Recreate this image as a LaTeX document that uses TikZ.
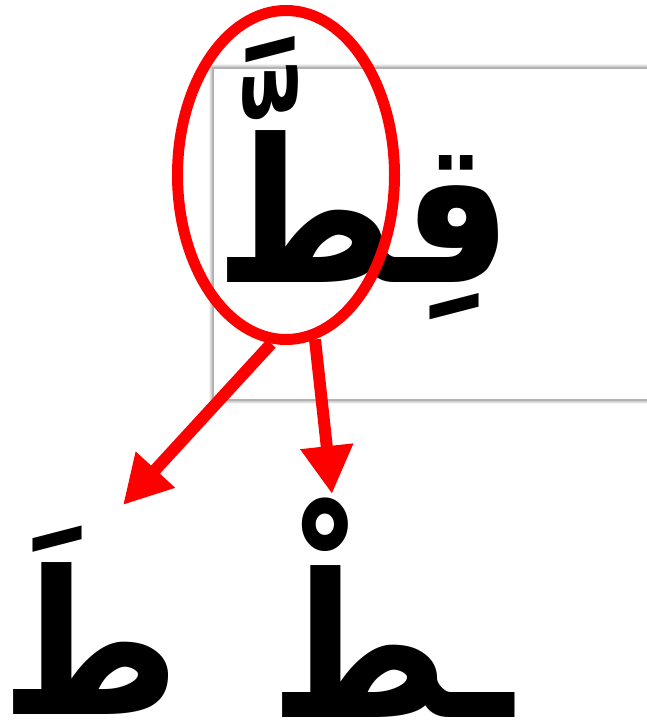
\documentclass[tikz,border=0pt]{standalone}
\usepackage{fontspec}
\usetikzlibrary{arrows.meta,shapes.geometric,shadows.blur}
\newfontfamily\arabicfont[Script=Arabic]{DejaVu Sans}
\TeXXeTstate=1

\begin{document}
\begin{tikzpicture}[
		x=1pt,y=1pt,
		>={Triangle[length=48pt,width=50pt]},
		word/.style={font=\arabicfont\bfseries\fontsize{200}{200}\selectfont, inner sep=0pt, transform shape, xscale=0.86},
		ring/.style={draw=red, line width=11pt, ellipse, minimum width=217pt, minimum height=329pt, inner sep=0pt},
		link/.style={->, red, line width=12pt},
		frame/.style={draw=gray!60, line width=1.2pt, fill=white, blur shadow={shadow xshift=0pt, shadow yshift=0pt, shadow blur radius=4pt, shadow opacity=70}}
		]
		\useasboundingbox (0,0) rectangle (646,722);
		
		% --------------------------------------------------
		% Framed word
		% --------------------------------------------------
		\draw[frame] (213,322) rectangle (660,654);
		\node[word, anchor=base] (qitt) at (364,439) {\beginR قِطَّ\endR};
		
		% the letter that is picked out
		\node[ring] (sel) at (286,547) {};
		
		% --------------------------------------------------
		% The two parts below
		% --------------------------------------------------
		\node[word, anchor=base] (taA) at (91,8) {\beginR طَ\endR};
		\node[word, anchor=base] (taB) at (392,5) {\beginR ـطْ\endR};
		
		\coordinate (tipA) at (123,217);
		\coordinate (tipB) at (332,228);
		
		\draw[link] (sel.-95) -- (tipA);
		\draw[link] (sel.-80) -- (tipB);
		
	\end{tikzpicture}
\end{document}
